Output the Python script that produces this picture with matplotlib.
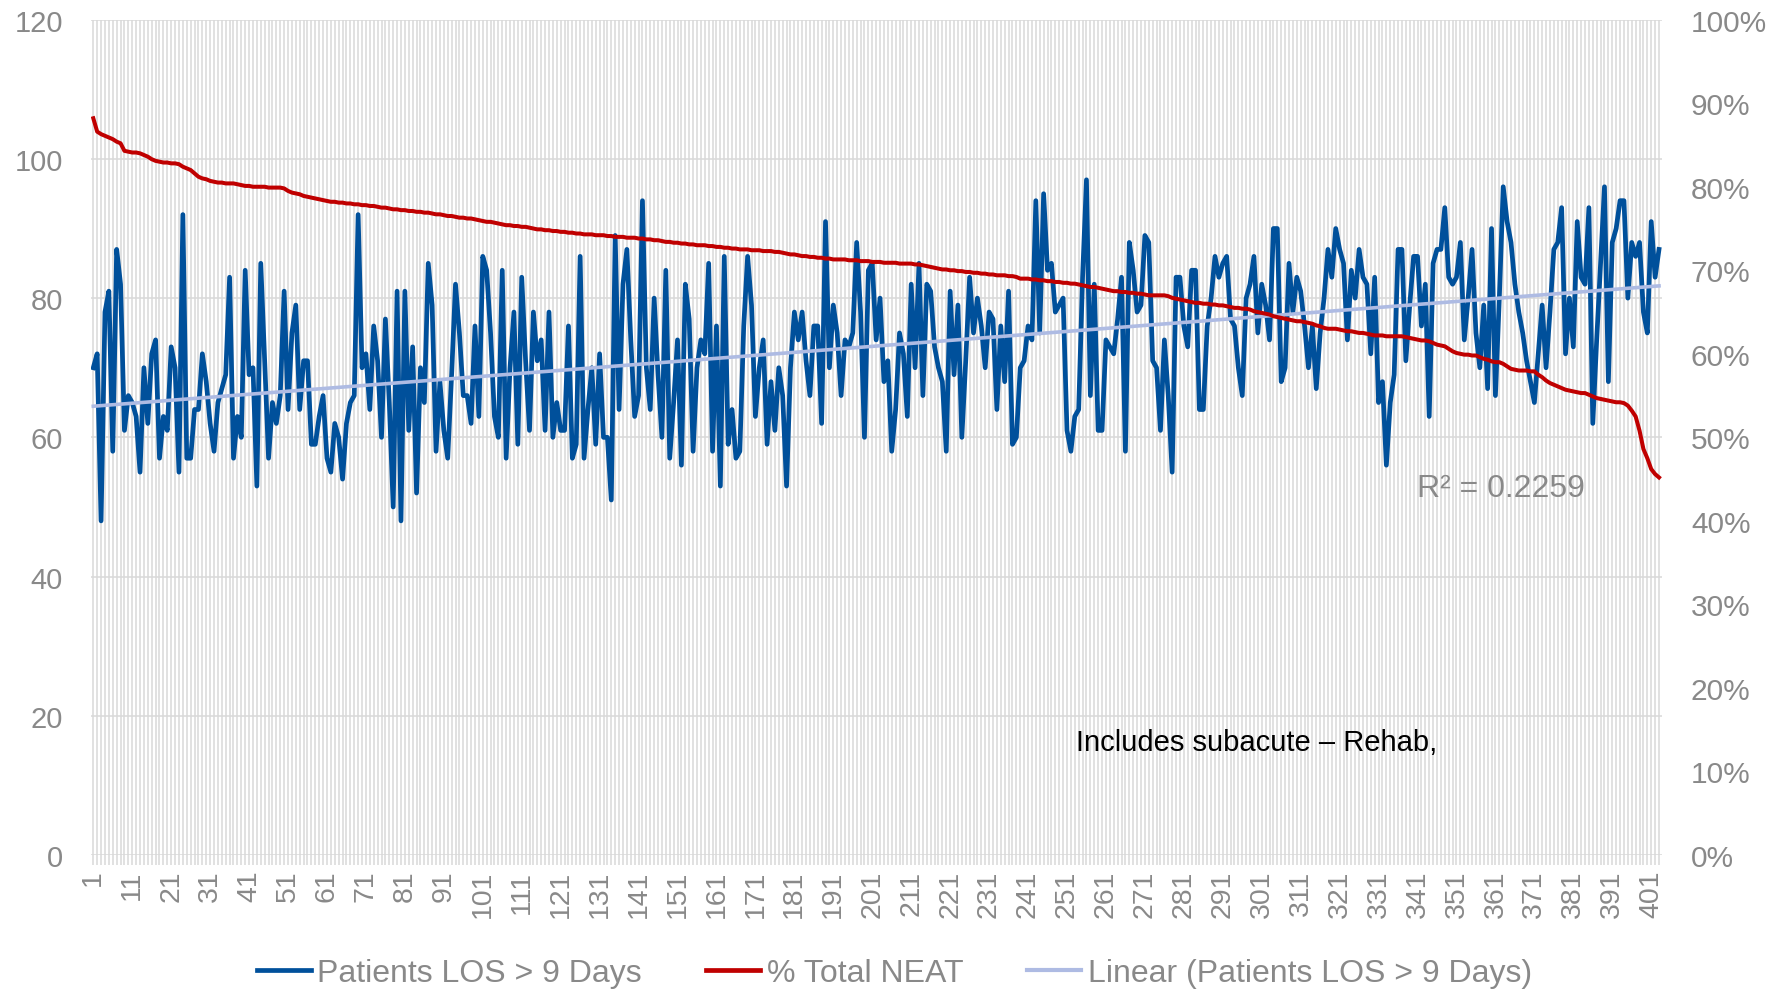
import numpy as np
import matplotlib
matplotlib.use('Agg')
import matplotlib.pyplot as plt
from matplotlib.lines import Line2D

# Patients LOS > 9 Days (left axis)
los_days = [
    70, 72, 48, 78, 81, 58, 87, 82, 61, 66, 65, 63, 55, 70, 62, 72, 74, 57, 63, 61,
    73, 70, 55, 92, 57, 57, 64, 64, 72, 68, 62, 58, 65, 67, 69, 83, 57, 63, 60, 84,
    69, 70, 53, 85, 71, 57, 65, 62, 66, 81,
    64, 75, 79, 64, 71, 71, 59, 59, 63, 66, 57, 55, 62, 60, 54, 62, 65, 66, 92, 70,
    72, 64, 76, 71, 60, 77, 65, 50, 81, 48, 81, 61, 73, 52, 70, 65, 85, 79, 58, 68,
    61, 57, 69, 82, 75, 66, 66, 62, 76,
    63, 86, 84, 75, 63, 60, 84, 57, 70, 78, 59, 83, 71, 61, 78, 71, 74, 61, 78, 60,
    65, 61, 61, 76, 57, 59, 86, 57, 64, 70, 59, 72, 60, 60, 51, 89, 64, 82, 87, 74,
    63, 66, 94, 70, 64, 80, 69, 60, 84,
    57, 65, 74, 56, 82, 77, 58, 70, 74, 72, 85, 58, 76, 53, 86, 59, 64, 57, 58, 76,
    86, 79, 63, 70, 74, 59, 68, 61, 70, 66, 53, 70, 78, 74, 78, 71, 66, 76, 76, 62,
    91,
    70, 79, 75, 66, 74, 73, 75, 88, 78, 60, 84, 85, 74, 80, 68, 71, 58, 64, 75, 72,
    63, 82, 70, 85, 66, 82, 81, 73, 70, 68, 58, 81, 69, 79, 60, 71, 83, 75, 80, 76,
    70, 78, 77, 64,
    76, 68, 81, 59, 60, 70, 71, 76, 74, 94, 75, 95, 84, 85, 78, 79, 80, 61, 58, 63,
    64, 83, 97, 66, 82, 61, 61, 74, 73, 72, 77, 83, 58, 88, 84, 78, 79, 89, 88, 71,
    70, 61, 74,
    66, 55, 83, 83, 76, 73, 84, 84, 64, 64, 76, 80, 86, 83, 85, 86, 77, 76, 70, 66,
    80, 82, 86, 75, 82, 79, 74, 90, 90, 68, 70, 85, 78, 83, 81, 76, 70, 76, 67, 75,
    80, 87, 83, 90,
    87, 85, 74, 84, 80, 87, 83, 82, 72, 83, 65, 68, 56, 65, 69, 87, 87, 71, 79, 86,
    86, 76, 82, 63, 85, 87, 87, 93, 83, 82, 83, 88, 74, 80, 87, 75, 70, 79, 67, 90,
    66, 80, 96,
    91, 88, 82, 78, 75, 71, 68, 65, 72, 79, 70, 78, 87, 88, 93, 72, 80, 73, 91, 83,
    82, 93, 62, 74, 85, 96, 68, 88, 90, 94, 94, 80, 88, 86, 88, 78, 75, 91, 83, 87,
]

# % Total NEAT (right axis, percent)
neat_pct = [
    88.2, 86.6, 86.3, 86.1, 85.9, 85.7, 85.4, 85.2, 84.3, 84.2, 84.1, 84.1, 84.0, 83.8, 83.6, 83.3,
    83.1, 83.0, 82.9, 82.9, 82.8, 82.8, 82.7, 82.4, 82.2, 82.0, 81.6, 81.2, 81.0, 80.9, 80.7, 80.6,
    80.5, 80.5, 80.4, 80.4, 80.4, 80.3, 80.2, 80.1, 80.1, 80.0, 80.0, 80.0, 80.0, 79.9, 79.9, 79.9,
    79.9, 79.8, 79.5, 79.3, 79.2, 79.1, 78.9, 78.8, 78.7, 78.6, 78.5, 78.4, 78.3, 78.2, 78.2, 78.1,
    78.1, 78.0, 78.0, 77.9, 77.9, 77.8, 77.8, 77.7, 77.7, 77.6, 77.5, 77.5, 77.4, 77.3, 77.3,
    77.2, 77.2, 77.1, 77.1, 77.0, 77.0, 76.9, 76.9, 76.8, 76.7, 76.7, 76.6, 76.5, 76.5, 76.4, 76.3,
    76.3, 76.2, 76.2, 76.1, 76.0, 75.9, 75.8, 75.8, 75.7, 75.6, 75.5, 75.4,
    75.4, 75.3, 75.3, 75.2, 75.2, 75.1, 75.0, 74.9, 74.9, 74.8, 74.8, 74.7, 74.7, 74.6, 74.6,
    74.5, 74.5, 74.4, 74.4, 74.3, 74.3, 74.3, 74.2, 74.2, 74.2, 74.1,
    74.1, 74.0, 74.0, 74.0, 73.9, 73.9, 73.9, 73.8, 73.8, 73.7, 73.7, 73.6,
    73.6, 73.5, 73.4, 73.4, 73.3, 73.3, 73.2, 73.2, 73.1, 73.1, 73.0, 73.0,
    73.0, 72.9, 72.9, 72.8, 72.8,
    72.7, 72.7, 72.6, 72.6, 72.5, 72.5, 72.5, 72.4, 72.4, 72.4, 72.3, 72.3,
    72.3, 72.2, 72.2, 72.1, 72.0, 71.9, 71.9, 71.8, 71.7, 71.7, 71.6, 71.6, 71.5, 71.5, 71.4, 71.4,
    71.3, 71.3, 71.3, 71.3, 71.2, 71.2, 71.2, 71.1, 71.1, 71.1, 71.0, 71.0, 71.0, 70.9, 70.9, 70.9,
    70.9, 70.8, 70.8, 70.8, 70.8, 70.7,
    70.7, 70.6, 70.5, 70.4, 70.3, 70.2, 70.1, 70.1, 70.0, 70.0,
    69.9, 69.9, 69.8, 69.8, 69.7, 69.7, 69.6, 69.6, 69.5, 69.5,
    69.4, 69.4, 69.4, 69.3, 69.3, 69.2, 69.0, 69.0, 69.0, 68.9,
    68.9, 68.8, 68.8, 68.7, 68.7, 68.6, 68.6, 68.5, 68.5, 68.4,
    68.4, 68.3, 68.2, 68.1, 68.0, 68.0, 67.9, 67.8, 67.7, 67.6,
    67.5, 67.5, 67.4, 67.4, 67.3, 67.3, 67.2, 67.2, 67.1, 67.0,
    67.0, 67.0, 67.0, 67.0, 66.9, 66.7, 66.6, 66.5, 66.4, 66.3,
    66.2, 66.1, 66.1, 66.0, 66.0, 65.9, 65.9, 65.8, 65.8, 65.7,
    65.6, 65.5, 65.5, 65.4, 65.4, 65.3, 65.1, 65.0,
    64.9, 64.8, 64.7, 64.5, 64.4, 64.3, 64.2, 64.1, 64.0, 63.9,
    63.9, 63.8, 63.7, 63.6, 63.4, 63.3, 63.1, 63.0, 63.0, 63.0,
    62.9, 62.8, 62.7, 62.7, 62.6, 62.5, 62.5, 62.4, 62.3, 62.2,
    62.2, 62.2, 62.1, 62.1, 62.1, 62.1, 62.1, 62.0, 61.9, 61.8,
    61.7, 61.6, 61.6, 61.5,
    61.3, 61.1, 61.0, 60.9, 60.6, 60.3, 60.1, 60.0, 59.9, 59.9, 59.8, 59.8, 59.6, 59.4, 59.3, 59.1,
    59.0,
    59.0, 58.8, 58.5, 58.2, 58.1, 58.0, 58.0, 58.0, 57.9, 57.9,
    57.5, 57.2, 56.8, 56.5, 56.3, 56.1, 55.9, 55.7, 55.6, 55.5,
    55.4, 55.3, 55.3, 55.1, 54.9, 54.7, 54.6, 54.5, 54.4, 54.3,
    54.2, 54.2, 54.1, 53.8, 53.2, 52.5, 50.8, 48.6, 47.5, 46.2,
    45.6, 45.2,
]

left_ticks = [0, 20, 40, 60, 80, 100, 120]
right_ticks = [0, 10, 20, 30, 40, 50, 60, 70, 80, 90, 100]
r2_label = "R² = 0.2259"
note = "Includes subacute \u2013 Rehab,"

plt.rcParams['font.family'] = ['Liberation Sans', 'DejaVu Sans']

grey_txt = '#898989'
grid_c = '#d9d9d9'
blue = '#00509b'
red = '#c00000'
trend_c = '#aebbe3'

n = len(los_days)
x = np.arange(1, n + 1)
x_red = np.arange(1, len(neat_pct) + 1)

# Excel style linear trendline
slope, icpt = np.polyfit(x, los_days, 1)
trend = slope * x + icpt

fig = plt.figure(figsize=(17.71, 9.95), dpi=100)
ax = fig.add_axes([0.0512, 0.1397, 0.8871, 0.8395])
ax.set_xlim(0.33, n + 0.7)
ax.set_ylim(0, 120)
ax.set_axisbelow(True)

ax.set_xticks(list(range(1, n + 1, 10)))
ax.set_xticks(list(range(1, n + 1)), minor=True)
ax.set_yticks(left_ticks)
ax.grid(which='both', axis='x', color=grid_c, lw=1.1)
ax.grid(which='major', axis='y', color=grid_c, lw=1.1)
ax.tick_params(axis='x', which='both', length=7.5, width=1.1, color=grid_c,
               labelsize=20.5, labelcolor=grey_txt, labelrotation=90, pad=3)
ax.tick_params(axis='y', length=0, labelsize=21, labelcolor=grey_txt, pad=20)
for s in ax.spines.values():
    s.set_visible(False)

ax.plot(x, los_days, color=blue, lw=3.4, solid_joinstyle='round', zorder=3)
ax.plot(x, trend, color=trend_c, lw=2.6, zorder=4)

ax2 = ax.twinx()
ax2.set_ylim(0, 100)
ax2.set_yticks(right_ticks)
ax2.set_yticklabels([f"{v}%" for v in right_ticks])
ax2.tick_params(axis='y', length=0, labelsize=21.5, labelcolor=grey_txt, pad=21)
for s in ax2.spines.values():
    s.set_visible(False)
ax2.plot(x_red, neat_pct, color=red, lw=2.9, solid_joinstyle='round', zorder=5)

ax.text(0.844, 0.439, r2_label, transform=ax.transAxes, fontsize=23,
        color=grey_txt, ha='left', va='center', zorder=6)
ax.text(0.627, 0.135, note, transform=ax.transAxes, fontsize=21,
        color='black', ha='left', va='center', zorder=6)

handles = [Line2D([], [], color=blue, lw=3.4),
           Line2D([], [], color=red, lw=3.4),
           Line2D([], [], color=trend_c, lw=3.0)]
labels = ['Patients LOS > 9 Days', '% Total NEAT', 'Linear (Patients LOS > 9 Days)']
fig.legend(handles, labels, loc='center', bbox_to_anchor=(0.505, 0.021), ncol=3,
           frameon=False, fontsize=23, labelcolor=grey_txt, handlelength=1.7,
           handletextpad=0.2, columnspacing=2.0)

fig.savefig('out.png', dpi=100)
